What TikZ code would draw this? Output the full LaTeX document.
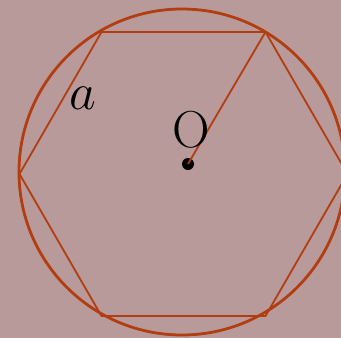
\RequirePackage{fix-cm}
\documentclass[tikz,border=0pt]{standalone}
\usetikzlibrary{positioning,calc}
\definecolor{bgmauve}{HTML}{B89A9A}
\definecolor{rust}{HTML}{B23D10}
\tikzset{
    rim/.style={draw=rust,line width=2.8pt},
    side/.style={draw=rust,line width=1.8pt,line join=miter},
    centre/.style={circle,fill=black,minimum size=12pt,inner sep=0pt},
    lbl/.style={font=\fontsize{52}{60}\selectfont,inner sep=0pt}
}
\begin{document}
\begin{tikzpicture}[x=1pt,y=-1pt]
    \fill[bgmauve] (0,0) rectangle (341,338);
    \useasboundingbox (0,0) rectangle (341,338);
    \draw[rim] (182,172) circle[radius=163pt];
    \foreach \k in {1,...,6}
        \coordinate (h\k) at ($(183.5,174)+({60*(\k-1)}:164pt)$);
    \draw[side] (h1)--(h2)--(h3)--(h4)--(h5)--(h6)--cycle;
    \node[centre] (o) at (188,164) {};
    \draw[side] (o.center)--(h2);
    \node[lbl] (olbl) at (191,130) {O};
    \node[lbl] (alabel) at (83,98) {$a$};
\end{tikzpicture}
\end{document}
